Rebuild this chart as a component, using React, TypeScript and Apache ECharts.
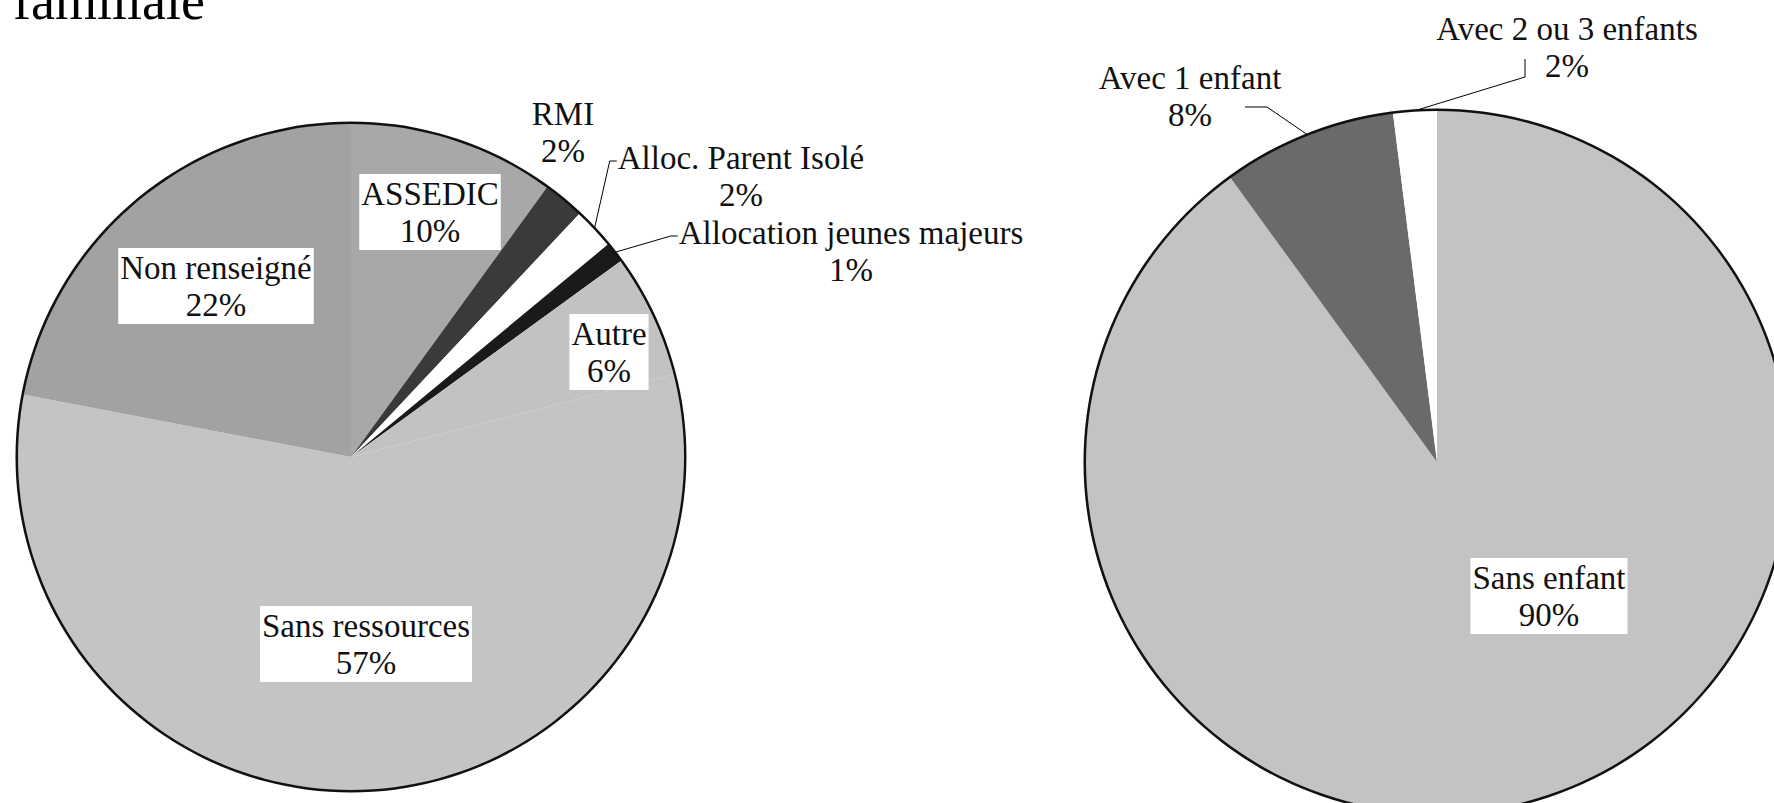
import React, { useEffect, useRef } from "react";
import * as echarts from "echarts";

// ---- data ----
const titleText = "familiale";

const leftCategories = [
  "ASSEDIC",
  "RMI",
  "Alloc. Parent Isolé",
  "Allocation jeunes majeurs",
  "Autre",
  "Sans ressources",
  "Non renseigné",
];
const leftValues = [10, 2, 2, 1, 6, 57, 22];

const rightCategories = ["Sans enfant", "Avec 1 enfant", "Avec 2 ou 3 enfants"];
const rightValues = [90, 8, 2];

// ---- styles / layout ----
const leftColors = ["#a8a8a8", "#3a3a3a", "#ffffff", "#1a1a1a", "#c2c2c2", "#c4c4c4", "#a2a2a2"];
const rightColors = ["#c3c3c3", "#6a6a6a", "#ffffff"];

const FONT = '"Liberation Serif", "Times New Roman", serif';

type LabelSpec = { cx: number; cy: number; box: boolean; line?: "leftElbow" | "right1" | "up23" };

const leftLabelSpec: LabelSpec[] = [
  { cx: 430, cy: 212, box: true },
  { cx: 563, cy: 132, box: false },
  { cx: 741, cy: 176, box: false, line: "leftElbow" },
  { cx: 851, cy: 251, box: false, line: "leftElbow" },
  { cx: 609, cy: 352, box: true },
  { cx: 366, cy: 644, box: true },
  { cx: 216, cy: 286, box: true },
];

const rightLabelSpec: LabelSpec[] = [
  { cx: 1549, cy: 596, box: true },
  { cx: 1190, cy: 96, box: false, line: "right1" },
  { cx: 1567, cy: 47, box: false, line: "up23" },
];

const LEFT_CENTER = [351, 457];
const LEFT_R = 334;
const RIGHT_CENTER = [1437, 462];
const RIGHT_R = 352;

function makeLayout(specs: LabelSpec[]) {
  return (params: any) => {
    const s = specs[params.dataIndex];
    if (!s) return {};
    const w = params.labelRect.width;
    const h = params.labelRect.height;
    const left = s.cx - w / 2;
    const top = s.cy - h / 2;
    const out: any = { x: s.cx, y: s.cy, align: "center", verticalAlign: "middle" };
    const p0 = params.labelLinePoints ? params.labelLinePoints[0] : null;
    if (s.line && p0) {
      if (s.line === "leftElbow") {
        out.labelLinePoints = [
          [p0[0], p0[1]],
          [left - 8, top + 22],
          [left - 1, top + 22],
        ];
      } else if (s.line === "right1") {
        out.labelLinePoints = [
          [p0[0], p0[1]],
          [s.cx + 77, s.cy + 11],
          [s.cx + 55, s.cy + 11],
        ];
      } else if (s.line === "up23") {
        out.labelLinePoints = [
          [p0[0], p0[1]],
          [s.cx - 42, s.cy + 30],
          [s.cx - 42, s.cy + 12],
        ];
      }
    }
    return out;
  };
}

function buildData(cats: string[], vals: number[], colors: string[], specs: LabelSpec[]) {
  return cats.map((name, i) => {
    const s = specs[i];
    const outside = !s.box;
    return {
      name,
      value: vals[i],
      itemStyle: { color: colors[i] },
      label: {
        position: outside ? "outside" : "inside",
        backgroundColor: s.box ? "#ffffff" : "transparent",
        padding: s.box ? [1, 2] : 0,
      },
      labelLine: { show: !!s.line },
    };
  });
}

const labelBase = {
  show: true,
  formatter: (p: any) => `${p.name}\n${Math.round(p.percent)}%`,
  fontFamily: FONT,
  fontSize: 33,
  lineHeight: 37,
  color: "#111111",
  align: "center",
};

function ring(center: number[], r: number) {
  return {
    type: "pie",
    center,
    radius: [r - 1, r + 1.5],
    silent: true,
    startAngle: 90,
    label: { show: false },
    labelLine: { show: false },
    emphasis: { disabled: true },
    itemStyle: { color: "#111111", borderWidth: 0 },
    data: [{ value: 1, name: "" }],
    z: 5,
  };
}

export default function App() {
  const ref = useRef<HTMLDivElement>(null);

  useEffect(() => {
    if (!ref.current) return;
    const chart = echarts.init(ref.current, null, { renderer: "svg" });
    const option: any = {
      animation: false,
      backgroundColor: "#ffffff",
      graphic: [
        {
          type: "text",
          left: 13,
          top: -26,
          style: {
            text: titleText,
            font: `54px ${FONT}`,
            fill: "#000000",
          },
        },
      ],
      series: [
        {
          type: "pie",
          center: LEFT_CENTER,
          radius: [0, LEFT_R],
          startAngle: 90,
          clockwise: true,
          avoidLabelOverlap: false,
          silent: true,
          itemStyle: { borderWidth: 0 },
          label: labelBase,
          labelLine: { show: true, lineStyle: { color: "#000000", width: 1 }, smooth: false },
          labelLayout: makeLayout(leftLabelSpec),
          data: buildData(leftCategories, leftValues, leftColors, leftLabelSpec),
          z: 2,
        },
        ring(LEFT_CENTER, LEFT_R),
        {
          type: "pie",
          center: RIGHT_CENTER,
          radius: [0, RIGHT_R],
          startAngle: 90,
          clockwise: true,
          avoidLabelOverlap: false,
          silent: true,
          itemStyle: { borderWidth: 0 },
          label: labelBase,
          labelLine: { show: true, lineStyle: { color: "#000000", width: 1 }, smooth: false },
          labelLayout: makeLayout(rightLabelSpec),
          data: buildData(rightCategories, rightValues, rightColors, rightLabelSpec),
          z: 2,
        },
        ring(RIGHT_CENTER, RIGHT_R),
      ],
    };
    chart.setOption(option);
    return () => chart.dispose();
  }, []);

  return (
    <div
      ref={ref}
      style={{ position: "absolute", left: 0, top: 0, width: 1774, height: 803, overflow: "hidden" }}
    />
  );
}
